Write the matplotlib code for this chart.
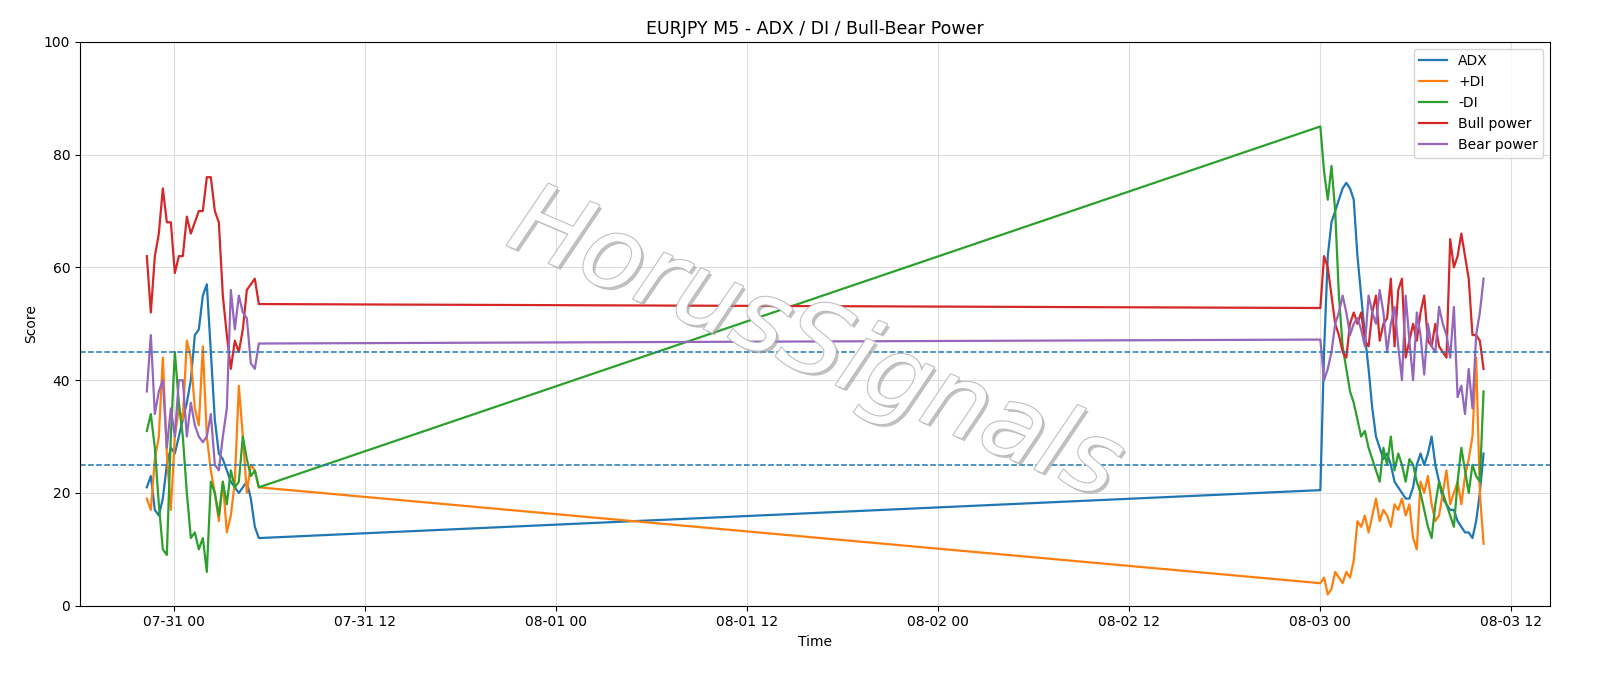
import numpy as np
import pandas as pd
import matplotlib
matplotlib.use("Agg")
import matplotlib.pyplot as plt
import matplotlib.dates as mdates
import matplotlib.patheffects as pe

# ----------------------
# DATA
# ----------------------
left_start, left_end = "2025-07-30 22:18", "2025-07-31 05:20"
right_start, right_end = "2025-08-03 00:00", "2025-08-03 10:15"

adx_left = [21, 23, 17, 16, 19, 25, 28, 27, 30, 33, 36, 40, 48, 49, 55, 57, 45, 33, 27, 26,
            24, 22, 21, 20, 21, 22, 19, 14, 12]
pdi_left = [19, 17, 26, 30, 44, 27, 17, 30, 35, 33, 47, 44, 35, 32, 46, 30, 24, 20, 15, 22,
            13, 16, 22, 39, 30, 20, 25, 24, 21]
mdi_left = [31, 34, 28, 18, 10, 9, 30, 45, 36, 30, 20, 12, 13, 10, 12, 6, 22, 20, 16, 22,
            18, 24, 21, 22, 30, 26, 23, 24, 21]
bull_left = [62, 52, 62, 66, 74, 68, 68, 59, 62, 62, 69, 66, 68, 70, 70, 76, 76, 70, 68, 55,
             48, 42, 47, 45, 49, 56, 57, 58, 53.5]
bear_left = [38, 48, 34, 38, 40, 28, 35, 30, 40, 40, 30, 36, 32, 30, 29, 30, 34, 25, 24, 30,
             35, 56, 49, 55, 52, 51, 43, 42, 46.5]

adx_right = [20.5, 45, 62, 68, 70, 72, 74, 75, 74, 72, 62, 55, 48, 42, 35, 30, 28, 26, 27, 25,
             22, 21, 20, 19, 19, 21, 25, 27, 25, 27, 30, 25, 22, 19, 18, 17, 17, 15, 14, 13,
             13, 12, 15, 20, 27]
pdi_right = [4, 5, 2, 3, 6, 5, 4, 6, 5, 8, 15, 14, 16, 13, 16, 19, 15, 17, 16, 14,
             18, 17, 19, 16, 18, 12, 10, 22, 20, 23, 18, 15, 16, 20, 24, 18, 20, 22, 18, 23,
             26, 30, 44, 20, 11]
mdi_right = [85, 77, 72, 78, 70, 55, 46, 42, 38, 36, 33, 30, 31, 28, 26, 24, 22, 28, 25, 30,
             24, 27, 25, 22, 26, 25, 22, 20, 17, 14, 12, 18, 22, 20, 18, 16, 14, 22, 28, 24,
             20, 25, 23, 22, 38]
bull_right = [52.8, 62, 60, 55, 50, 48, 45, 44, 50, 52, 50, 52, 47, 46, 52, 55, 47, 50, 51, 58,
              46, 56, 58, 44, 47, 50, 47, 52, 55, 47, 46, 50, 46, 45, 44, 65, 60, 62, 66, 62,
              58, 48, 48, 47, 42]
bear_right = [47.2, 40, 42, 45, 50, 52, 55, 52, 48, 50, 51, 49, 46, 55, 52, 50, 56, 52, 45, 50,
              53, 46, 40, 55, 47, 40, 52, 48, 41, 50, 46, 45, 53, 50, 48, 44, 53, 37, 39, 34,
              42, 35, 48, 52, 58]

levels = [25, 45]

t = pd.date_range(left_start, left_end, periods=len(adx_left)).append(
    pd.date_range(right_start, right_end, periods=len(adx_right)))

series = [
    ("ADX", adx_left + adx_right, "C0"),
    ("+DI", pdi_left + pdi_right, "C1"),
    ("-DI", mdi_left + mdi_right, "C2"),
    ("Bull power", bull_left + bull_right, "C3"),
    ("Bear power", bear_left + bear_right, "C4"),
]

# ----------------------
# PLOT
# ----------------------
fig = plt.figure(figsize=(16, 6.86), dpi=100)
ax = fig.add_axes([0.05, 0.117, 0.919, 0.822])

for name, vals, col in series:
    ax.plot(t, vals, color=col, lw=1.6, label=name)
for lv in levels:
    ax.axhline(lv, color="C0", ls="--", lw=1.1)

ax.set_ylim(0, 100)
ax.xaxis.set_major_locator(mdates.HourLocator(byhour=[0, 12]))
ax.xaxis.set_major_formatter(mdates.DateFormatter("%m-%d %H"))
ax.grid(True, color="#dddddd", lw=0.8)
ax.set_xlabel("Time")
ax.set_ylabel("Score")
ax.set_title("EURJPY M5 - ADX / DI / Bull-Bear Power", fontsize=12.5)
ax.legend(loc="upper right", fontsize=10)

ax.text(0.5, 0.46, "HorusSignals", transform=ax.transAxes, fontsize=72,
        rotation=-23, ha="center", va="center", style="italic",
        color="white", alpha=0.95, zorder=5,
        path_effects=[pe.withSimplePatchShadow(offset=(2, -2), shadow_rgbFace="#999999", alpha=0.6),
                      pe.withStroke(linewidth=1.5, foreground="#bbbbbb")])

fig.savefig("out.png")
